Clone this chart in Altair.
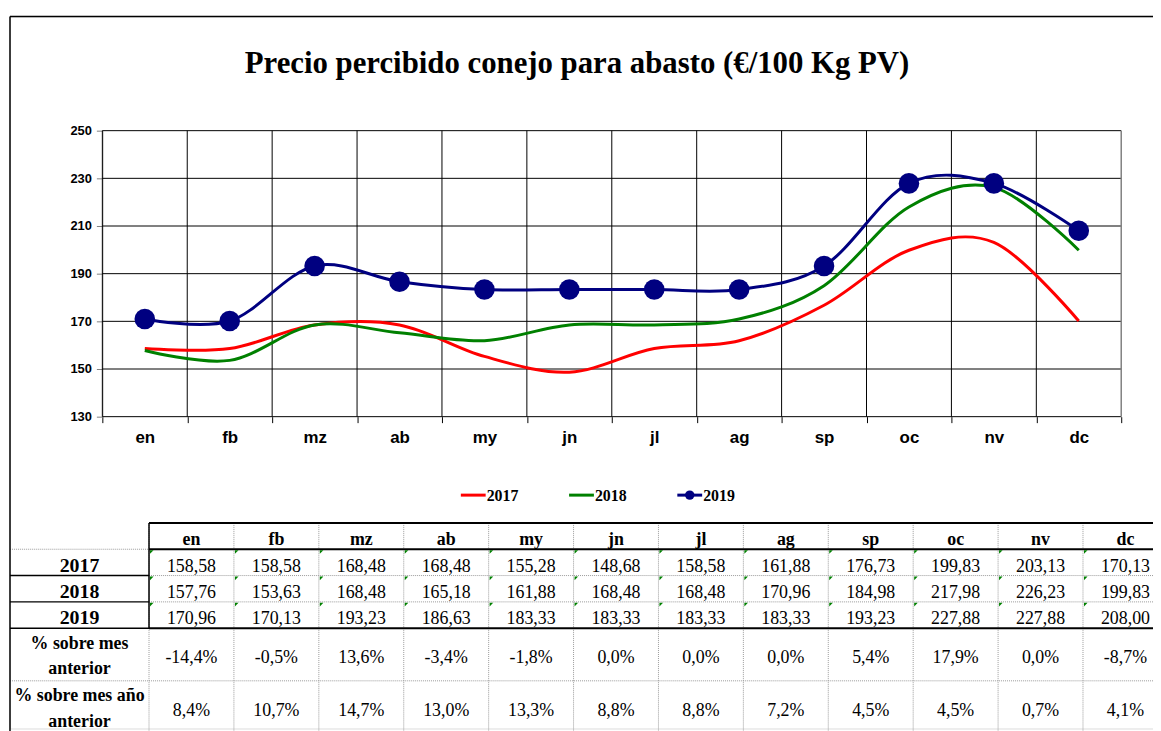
import altair as alt
import pandas as pd

TITLE = "Precio percibido conejo para abasto (€/100 Kg PV)"
MONTHS = ["en", "fb", "mz", "ab", "my", "jn", "jl", "ag", "sp", "oc", "nv", "dc"]
YEARS = ["2017", "2018", "2019"]
V2017 = [158.58, 158.58, 168.48, 168.48, 155.28, 148.68, 158.58, 161.88, 176.73, 199.83, 203.13, 170.13]
V2018 = [157.76, 153.63, 168.48, 165.18, 161.88, 168.48, 168.48, 170.96, 184.98, 217.98, 226.23, 199.83]
V2019 = [170.96, 170.13, 193.23, 186.63, 183.33, 183.33, 183.33, 183.33, 193.23, 227.88, 227.88, 208.00]
PCT_MES_ANTERIOR = [-14.4, -0.5, 13.6, -3.4, -1.8, 0.0, 0.0, 0.0, 5.4, 17.9, 0.0, -8.7]
PCT_ANIO_ANTERIOR = [8.4, 10.7, 14.7, 13.0, 13.3, 8.8, 8.8, 7.2, 4.5, 4.5, 0.7, 4.1]
PCT_LABELS = ["% sobre mes\nanterior", "% sobre mes año\nanterior"]
COLORS = ["#FF0000", "#008000", "#000080"]
Y_TICKS = [130, 150, 170, 190, 210, 230, 250]
ROW_SPANS = [1, 1, 1, 1, 2, 2]

W, H = 1151, 717
SERIF = "Liberation Serif"
SANS = "Liberation Sans"

# ---------- line chart ----------
recs = []
for yr, vals in zip(YEARS, [V2017, V2018, V2019]):
    for i, (m, v) in enumerate(zip(MONTHS, vals)):
        recs.append({"year": yr, "month": m, "idx": i, "value": v})
series = pd.DataFrame(recs)

x_scale = alt.Scale(type="band", domain=MONTHS, range=[93, 1119], paddingInner=0, paddingOuter=0)
y_scale = alt.Scale(domain=[130, 250], range=[403, 115], zero=False, nice=False)
x_axis = alt.Axis(title=None, labelAngle=0, tickBand="extent", grid=False,
                  domain=False, tickColor="black", tickSize=6,
                  labelFont=SANS, labelFontWeight="bold", labelFontSize=17, labelColor="black",
                  labelPadding=7, offset=-314)
y_axis = alt.Axis(title=None, values=Y_TICKS, grid=False,
                  domainColor="#808080", tickColor="#808080", tickSize=6,
                  labelFont=SANS, labelFontWeight="bold", labelFontSize=13, labelColor="black",
                  labelPadding=5, offset=-93)

def xc(bp=0.5):
    return alt.X("month:N", sort=MONTHS, bandPosition=bp, scale=x_scale, axis=x_axis)

def yc(field):
    return alt.Y(field, scale=y_scale, axis=y_axis)

color = alt.Color("year:N", scale=alt.Scale(domain=YEARS, range=COLORS), legend=None)

# gridlines
hgrid_df = pd.DataFrame({"value": Y_TICKS})
hgrid = alt.Chart(hgrid_df).mark_rule(color="black", strokeWidth=1).encode(
    y=yc("value:Q"), x=alt.value(93), x2=alt.value(1119))
vgrid_df = pd.DataFrame({"month": MONTHS, "value": [Y_TICKS[0]] * 12, "hi": [Y_TICKS[-1]] * 12})
vgrid = alt.Chart(vgrid_df).mark_rule(color="black", strokeWidth=1).encode(
    x=xc(0), y=yc("value:Q"), y2="hi:Q")
vgrid_end = alt.Chart(vgrid_df.tail(1)).mark_rule(color="#808080", strokeWidth=1.5).encode(
    x=xc(1), y=yc("value:Q"), y2="hi:Q")

lines = alt.Chart(series).mark_line(interpolate="cardinal", strokeWidth=3).encode(
    x=xc(), y=yc("value:Q"), color=color, detail="year:N", order="idx:Q"
)
dots = alt.Chart(series).transform_filter(alt.datum.year == YEARS[2]).mark_circle(
    size=430, opacity=1, color=COLORS[2]
).encode(x=xc(), y=yc("value:Q"))
chart_part = alt.layer(hgrid, vgrid, vgrid_end, lines, dots)

# ---------- table ----------
edges = [0]
for s in ROW_SPANS:
    edges.append(edges[-1] + s)
tops, bottoms = edges[:-1], edges[1:]
centers = [(a + b) / 2 for a, b in zip(tops, bottoms)]

def fmt_num(v):
    return f"{v:.2f}".replace(".", ",")

def fmt_pct(p):
    return f"{p:.1f}%".replace(".", ",")

cells = []
for i, m in enumerate(MONTHS):
    cells.append({"month": m, "row": 0, "top": tops[0], "bottom": bottoms[0], "center": centers[0], "txt": m})
    for r, vals in enumerate([V2017, V2018, V2019], start=1):
        cells.append({"month": m, "row": r, "top": tops[r], "bottom": bottoms[r], "center": centers[r], "txt": fmt_num(vals[i])})
    cells.append({"month": m, "row": 4, "top": tops[4], "bottom": bottoms[4], "center": centers[4], "txt": fmt_pct(PCT_MES_ANTERIOR[i])})
    cells.append({"month": m, "row": 5, "top": tops[5], "bottom": bottoms[5], "center": centers[5], "txt": fmt_pct(PCT_ANIO_ANTERIOR[i])})
cells = pd.DataFrame(cells)

x_tbl_scale = alt.Scale(type="band", domain=MONTHS, range=[140, 1166], paddingInner=0, paddingOuter=0)
y_tbl_scale = alt.Scale(domain=[0, edges[-1]], range=[510, 722], zero=False, nice=False)

def xt(bp=0.5):
    return alt.X("month:N", sort=MONTHS, bandPosition=bp, scale=x_tbl_scale, axis=None)

def yt(field):
    return alt.Y(field, scale=y_tbl_scale, axis=None)

header_txt = alt.Chart(cells).transform_filter(alt.datum.row == 0).mark_text(
    font=SERIF, fontSize=18, fontWeight="bold", baseline="alphabetic", dy=-4, color="black"
).encode(x=xt(), y=yt("bottom:Q"), text="txt:N")
value_txt = alt.Chart(cells).transform_filter((alt.datum.row >= 1) & (alt.datum.row <= 3)).mark_text(
    font=SERIF, fontSize=18, baseline="alphabetic", dy=-4, color="black"
).encode(x=xt(), y=yt("bottom:Q"), text="txt:N")
pct_txt = alt.Chart(cells).transform_filter(alt.datum.row >= 4).mark_text(
    font=SERIF, fontSize=18, baseline="alphabetic", dy=9, color="black"
).encode(x=xt(), y=yt("center:Q"), text="txt:N")

# small green corner marks of the spreadsheet cells
corner = alt.Chart(cells).transform_filter((alt.datum.row >= 1) & (alt.datum.row <= 3)).mark_point(
    shape="M0,0L1.2,0L0,1.2Z", filled=True, size=36, color="#008000", opacity=1, xOffset=1, yOffset=1
).encode(x=xt(0), y=yt("top:Q"))

year_rows = pd.DataFrame({"lab": YEARS, "bottom": bottoms[1:4]})
year_lab = alt.Chart(year_rows).mark_text(
    font=SERIF, fontSize=20, fontWeight="bold", baseline="alphabetic", dy=-4, color="black"
).encode(x=alt.value(70), y=yt("bottom:Q"), text="lab:N")
pct_rows = pd.DataFrame({"lab": PCT_LABELS, "center": centers[4:6]})
pct_lab = alt.Chart(pct_rows).mark_text(
    font=SERIF, fontSize=18, fontWeight="bold", baseline="alphabetic", dy=-6, lineBreak="\n",
    lineHeight=26, color="black"
).encode(x=alt.value(70), y=yt("center:Q"), text="lab:N")

# horizontal rules
lab_solid = pd.DataFrame({"edge": [edges[2], edges[3], edges[4]]})
lab_dot = pd.DataFrame({"edge": [edges[1], edges[5]]})
cell_solid = pd.DataFrame({"edge": [edges[0], edges[1], edges[4]]})
cell_dot = pd.DataFrame({"edge": [edges[2], edges[3], edges[5]]})

h1 = alt.Chart(lab_solid).mark_rule(color="black", strokeWidth=1.5).encode(
    y=yt("edge:Q"), x=alt.value(0), x2=alt.value(140))
h2 = alt.Chart(lab_dot).mark_rule(color="#9a9a9a", strokeWidth=1, strokeDash=[1, 1]).encode(
    y=yt("edge:Q"), x=alt.value(0), x2=alt.value(140))
h3 = alt.Chart(cell_solid).mark_rule(color="black", strokeWidth=2).encode(
    y=yt("edge:Q"), x=alt.value(140), x2=alt.value(W))
h4 = alt.Chart(cell_dot).mark_rule(color="#9a9a9a", strokeWidth=1, strokeDash=[1, 1]).encode(
    y=yt("edge:Q"), x=alt.value(140), x2=alt.value(W))

vlines = pd.DataFrame({"month": MONTHS, "y0": [edges[0]] * 12, "y1": [edges[-1]] * 12})
first_solid = pd.DataFrame({"month": [MONTHS[0]], "y0": [edges[0]], "y1": [edges[4]]})
v1 = alt.Chart(vlines).mark_rule(color="#9a9a9a", strokeWidth=1, strokeDash=[1, 1]).encode(
    x=xt(0), y=yt("y0:Q"), y2="y1:Q")
v2 = alt.Chart(first_solid).mark_rule(color="black", strokeWidth=1.5).encode(
    x=xt(0), y=yt("y0:Q"), y2="y1:Q")

table_part = alt.layer(v1, h2, h4, h1, h3, v2, corner, header_txt, value_txt, pct_txt, year_lab, pct_lab)

# ---------- decorations: title, legend, frame ----------
base = alt.Chart(pd.DataFrame({"k": [0]}))
title = base.mark_text(text=TITLE, font=SERIF, fontSize=31, fontWeight="bold",
                       align="center", baseline="alphabetic", color="black").encode(
    x=alt.value(571), y=alt.value(57))

legend_layers = []
leg_x = [454, 563, 672]
for yr, col, lx in zip(YEARS, COLORS, leg_x):
    legend_layers.append(base.mark_rule(color=col, strokeWidth=3).encode(
        x=alt.value(lx), x2=alt.value(lx + 25), y=alt.value(482)))
    legend_layers.append(base.mark_text(text=yr, font=SERIF, fontSize=16, fontWeight="bold",
                                        align="left", baseline="alphabetic", color="black").encode(
        x=alt.value(lx + 26), y=alt.value(488)))
legend_layers.append(base.mark_circle(size=90, opacity=1, color=COLORS[2]).encode(
    x=alt.value(leg_x[2] + 12.5), y=alt.value(482)))

frame_top = base.mark_rule(color="black", strokeWidth=1.5).encode(
    x=alt.value(0), x2=alt.value(W), y=alt.value(0))
frame_left = base.mark_rule(color="black", strokeWidth=1.5).encode(
    x=alt.value(0), y=alt.value(0), y2=alt.value(H + 10))

chart = alt.layer(
    chart_part, table_part, title, *legend_layers, frame_top, frame_left
).resolve_scale(x="independent", y="independent").properties(
    width=W, height=H,
    autosize=alt.AutoSizeParams(type="none"),
    padding={"left": 2, "top": 6, "right": 0, "bottom": 0},
).configure_view(stroke=None).configure(background="white")

chart.save("out.html", embed_options={"renderer": "svg", "actions": False})
